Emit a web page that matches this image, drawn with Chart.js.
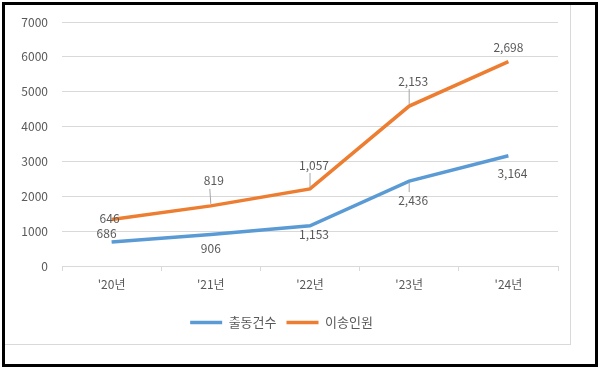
<!DOCTYPE html>
<html>
<head>
<meta charset="utf-8">
<script src="https://cdn.jsdelivr.net/npm/chart.js@4"></script>
<style>
body { margin: 0; background: #fff; }
#frame { position: absolute; left: 2px; top: 2px; width: 590px; height: 359px; border: 3px solid #000; }
#panel { position: absolute; left: 5px; top: 5px; width: 565px; height: 339px; border-right: 1px solid #d9d9d9; border-bottom: 1px solid #d9d9d9; }
</style>
</head>
<body>
<div id="frame"></div>
<div id="panel"><canvas id="lineChart"></canvas></div>
<script>
// data
var years = ["'20년", "'21년", "'22년", "'23년", "'24년"];
var dispatches = [686, 906, 1153, 2436, 3164];   // 출동건수
var transported = [646, 819, 1057, 2153, 2698];  // 이송인원

var FONT = "'Noto Sans CJK KR', 'Noto Sans', sans-serif";

// label offsets (dx, dy, leader line)
var labelPos = [
  [[-5, -9, 0], [0, 14, 0], [4, 9, 0], [4, 19, 1], [4, 18, 0]],
  [[-2, -1, 0], [3, -25, 1], [4, -24, 1], [4, -25, 1], [0, -14, 0]]
];

var valueLabels = {
  id: 'valueLabels',
  afterDatasetsDraw: function(chart) {
    var ctx = chart.ctx;
    ctx.save();
    ctx.font = '12px ' + FONT;
    ctx.textAlign = 'center';
    ctx.textBaseline = 'middle';
    chart.data.datasets.forEach(function(ds, di) {
      chart.getDatasetMeta(di).data.forEach(function(pt, i) {
        var p = labelPos[di][i];
        var x = pt.x + p[0], y = pt.y + p[1];
        if (p[2]) {
          ctx.strokeStyle = '#a6a6a6';
          ctx.lineWidth = 1;
          ctx.beginPath();
          if (p[1] < 0) { ctx.moveTo(x - 4, y + 8); ctx.lineTo(pt.x, pt.y - 2); }
          else { ctx.moveTo(x - 4, y - 8); ctx.lineTo(pt.x, pt.y + 2); }
          ctx.stroke();
        }
        ctx.fillStyle = '#595959';
        ctx.fillText(ds.data[i].toLocaleString('en-US'), x, y);
      });
    });
    ctx.restore();
  }
};

var ctxL = document.getElementById("lineChart").getContext('2d');
var myLineChart = new Chart(ctxL, {
  type: 'line',
  data: {
    labels: years,
    datasets: [{
      label: "출동건수",
      data: dispatches,
      borderColor: '#5b9bd5',
      backgroundColor: '#5b9bd5',
      borderWidth: 3.5,
      pointRadius: 0,
      tension: 0
    },
    {
      label: "이송인원",
      data: transported,
      borderColor: '#ed7d31',
      backgroundColor: '#ed7d31',
      borderWidth: 3.5,
      pointRadius: 0,
      tension: 0
    }]
  },
  options: {
    responsive: true,
    maintainAspectRatio: false,
    animation: false,
    layout: { padding: { top: 17, right: 12, left: 0, bottom: 5 } },
    plugins: {
      tooltip: { enabled: false },
      legend: {
        position: 'bottom',
        labels: {
          usePointStyle: true,
          pointStyle: 'line',
          pointStyleWidth: 32,
          boxHeight: 13,
          padding: 10,
          color: '#595959',
          font: { family: FONT, size: 13 }
        }
      }
    },
    scales: {
      x: {
        offset: true,
        grid: { drawOnChartArea: false, drawTicks: true, tickLength: 5, offset: true, color: '#d9d9d9' },
        border: { color: '#d9d9d9' },
        ticks: { color: '#595959', font: { family: FONT, size: 12 }, padding: 6 },
        afterFit: function(s) { s.height = 40; }
      },
      y: {
        stacked: true,
        min: 0,
        max: 7000,
        grid: { color: '#d9d9d9', drawTicks: false },
        border: { display: false },
        ticks: {
          stepSize: 1000, color: '#595959', font: { family: FONT, size: 12 }, padding: 14,
          callback: function(v) { return String(v); }
        },
        afterFit: function(s) { s.width = 57; s.paddingTop = 0; s.paddingBottom = 0; }
      }
    }
  },
  plugins: [valueLabels]
});
</script>
</body>
</html>
